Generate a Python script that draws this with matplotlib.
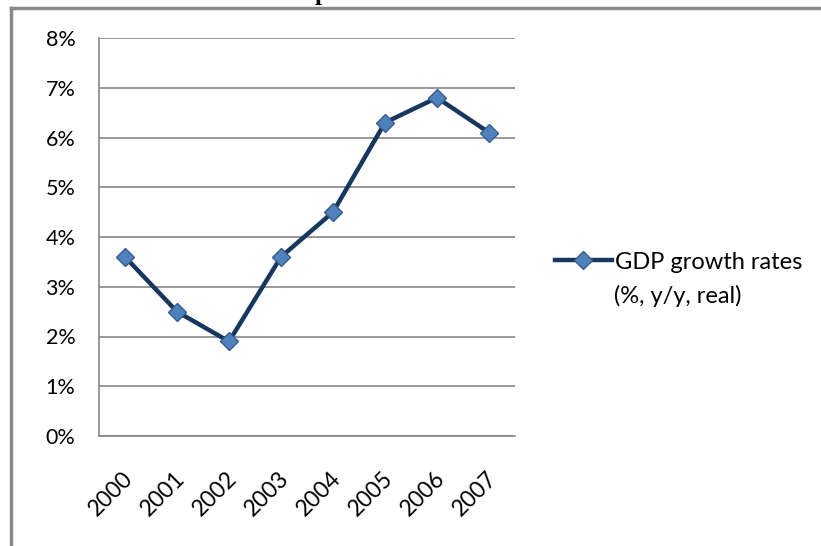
import matplotlib.pyplot as plt
import matplotlib.transforms as mtransforms
from matplotlib.lines import Line2D
from matplotlib.ticker import FuncFormatter

years = ['2000', '2001', '2002', '2003', '2004', '2005', '2006', '2007']
growth = [3.6, 2.5, 1.9, 3.6, 4.5, 6.3, 6.8, 6.1]
yticks = [0, 1, 2, 3, 4, 5, 6, 7, 8]
series_name = ['GDP growth rates', '(%, y/y, real)']

W, H = 821, 546
fig = plt.figure(figsize=(W / 100, H / 100), dpi=100)
plt.rcParams['font.family'] = ['Lato', 'DejaVu Sans']

# plot area in pixels: left 99, right 515, top 38, bottom 436
ax = fig.add_axes([99 / W, 1 - 436 / H, (515 - 99) / W, (436 - 38) / H])
x = range(len(years))
ax.plot(x, growth, color='#17375E', lw=3.2, marker='D', markersize=9,
        markerfacecolor='#4F81BD', markeredgecolor='#385D8A', markeredgewidth=1,
        label=series_name[0], zorder=3)

ax.set_xlim(-0.5, len(years) - 0.5)
ax.set_ylim(0, 8)
ax.set_yticks(yticks)
ax.yaxis.set_major_formatter(FuncFormatter(lambda v, p: f'{v:.0f}%'))
ax.set_xticks(list(x))
ax.set_xticklabels(years, rotation=45, ha='right', rotation_mode='anchor')
ax.tick_params(length=0, labelsize=15.5, colors='black')
ax.tick_params(axis='x', labelsize=16.5, pad=23)
ax.tick_params(axis='y', pad=17)
shift = mtransforms.ScaledTranslation(-2 / 72, 0, fig.dpi_scale_trans)
for lbl in ax.get_xticklabels():
    lbl.set_transform(lbl.get_transform() + shift)
ax.grid(axis='y', color='#868686', lw=1.2)
ax.set_axisbelow(True)
for side in ['top', 'right']:
    ax.spines[side].set_visible(False)
for side in ['left', 'bottom']:
    ax.spines[side].set_color('#868686')
    ax.spines[side].set_linewidth(1.2)

# legend entry with the second line of the series name underneath
fs = 17
ax.legend(loc='center left', bbox_to_anchor=(555 / W, 1 - 262 / H),
          bbox_transform=fig.transFigure, frameon=False, fontsize=fs,
          handlelength=2.4, handletextpad=0.12, borderpad=0, borderaxespad=0)
fig.text(614 / W, 1 - 296 / H, series_name[1], fontsize=fs, va='center')

# outer chart frame, cut off at the right and bottom
fig.add_artist(Line2D([11 / W, 11 / W], [0, 1 - 7.5 / H], color='#898989', lw=2.5))
fig.add_artist(Line2D([11 / W, 1], [1 - 7.5 / H, 1 - 7.5 / H], color='#898989', lw=2.5))
fig.text(315 / W, 1.0, 'p', family='Liberation Serif', weight='bold',
         fontsize=18, ha='left', va='baseline')

fig.savefig('out.png', dpi=100)
